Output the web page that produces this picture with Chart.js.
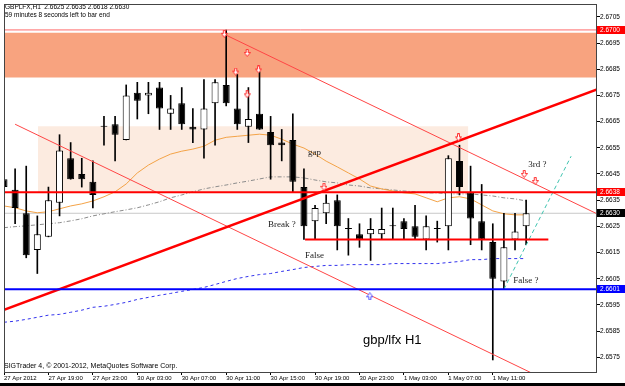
<!DOCTYPE html>
<html lang="en">
  <head>
    <meta charset="UTF-8" />
    <title>GBPLFX,H1</title>
    <style>
      body{
        margin: 0;
        background: #fff;
      }
      canvas{
        display: block;
      }
    </style>
  </head>
  <body>
    <canvas id="chart" width="625" height="386"></canvas>
    <script src="https://cdn.jsdelivr.net/npm/chart.js"></script>
    <script>
      // H1 bars, 27 Apr 2012 15:00 -> 1 May 2012 14:00
      const opens  = [2.6643, 2.6639, 2.6630, 2.6616, 2.6621, 2.6634, 2.6651, 2.6645, 2.6642,
                      2.6663, 2.6664, 2.6658, 2.6676, 2.6675, 2.6678, 2.6668, 2.6672, 2.6663, 2.6662, 2.6672,
                      2.6679, 2.6670, 2.6663, 2.6668, 2.6661, 2.6657, 2.6658, 2.6640, 2.6627, 2.6630,
                      2.6635, 2.6624, 2.6622,
                      2.6622, 2.6622, 2.6625, 2.6627, 2.6625, 2.6620, 2.6624, 2.6625, 2.6650, 2.6638,
                      2.6627, 2.6619, 2.6604, 2.6620, 2.6625];
      const highs  = [2.6645, 2.6647, 2.6648, 2.6629, 2.6640, 2.6660, 2.6657, 2.6651, 2.6650,
                      2.6667, 2.6667, 2.6679, 2.6680, 2.6680, 2.6680, 2.6675, 2.6678, 2.6670, 2.6681, 2.6681,
                      2.6700, 2.6683, 2.6678, 2.6684, 2.6667, 2.6662, 2.6668, 2.6647, 2.6633, 2.6637,
                      2.6637, 2.6628, 2.6626,
                      2.6628, 2.6632, 2.6632, 2.6628, 2.6633, 2.6629, 2.6627, 2.6652, 2.6656, 2.6648,
                      2.6641, 2.6626, 2.6630, 2.6630, 2.6635];
      const lows   = [2.6622, 2.6626, 2.6613, 2.6607, 2.6621, 2.6629, 2.6643, 2.6640, 2.6632,
                      2.6656, 2.6650, 2.6658, 2.6666, 2.6668, 2.6662, 2.6662, 2.6662, 2.6657, 2.6651, 2.6656,
                      2.6671, 2.6662, 2.6657, 2.6662, 2.6643, 2.6650, 2.6638, 2.6620, 2.6620, 2.6626,
                      2.6616, 2.6614, 2.6617,
                      2.6612, 2.6620, 2.6620, 2.6620, 2.6620, 2.6616, 2.6619, 2.6616, 2.6637, 2.6618,
                      2.6616, 2.6574, 2.6601, 2.6616, 2.6618];
      const closes = [2.6640, 2.6632, 2.6614, 2.6622, 2.6635, 2.6654, 2.6643, 2.6643, 2.6637,
                      2.6663, 2.6660, 2.6675, 2.6673, 2.6676, 2.6670, 2.6670, 2.6664, 2.6662, 2.6670, 2.6680,
                      2.6672, 2.6664, 2.6666, 2.6662, 2.6656, 2.6656, 2.6642, 2.6625, 2.6632, 2.6634,
                      2.6625, 2.6624, 2.6620,
                      2.6624, 2.6624, 2.6625, 2.6624, 2.6621, 2.6625, 2.6624, 2.6651, 2.6640, 2.6628,
                      2.6620, 2.6605, 2.6617, 2.6623, 2.6630];

      // moving averages
      const maOrange = [2.66328, 2.66321, 2.66309, 2.66302, 2.66306, 2.66317, 2.66328, 2.66336, 2.66347, 2.66363,
                        2.66382, 2.66412, 2.66454, 2.66484, 2.66507, 2.66526, 2.66537, 2.66545, 2.66556, 2.66579,
                        2.66590, 2.66594, 2.66598, 2.66602, 2.66598, 2.66583, 2.66564, 2.66549, 2.66526, 2.66499,
                        2.66477, 2.66454, 2.66431, 2.66404, 2.66393, 2.66385, 2.66378, 2.66374, 2.66359, 2.66344,
                        2.66359, 2.66363, 2.66355, 2.66332, 2.66309, 2.66298, 2.66294, 2.66294];
      const maGray   = [2.66245, 2.66249, 2.66252, 2.66256, 2.66260, 2.66264, 2.66271, 2.66279, 2.66290, 2.66298,
                        2.66306, 2.66313, 2.66321, 2.66332, 2.66344, 2.66359, 2.66370, 2.66382, 2.66393, 2.66401,
                        2.66408, 2.66416, 2.66423, 2.66431, 2.66439, 2.66439, 2.66439, 2.66435, 2.66427, 2.66420,
                        2.66416, 2.66408, 2.66404, 2.66397, 2.66393, 2.66389, 2.66385, 2.66382, 2.66378, 2.66378,
                        2.66374, 2.66374, 2.66374, 2.66370, 2.66366, 2.66359, 2.66355, 2.66347];
      const maBlue   = [2.65884, 2.65888, 2.65895, 2.65903, 2.65911, 2.65914, 2.65922, 2.65930, 2.65941, 2.65945,
                        2.65952, 2.65960, 2.65971, 2.65979, 2.65987, 2.65994, 2.66002, 2.66009, 2.66017, 2.66028,
                        2.66040, 2.66051, 2.66059, 2.66066, 2.66070, 2.66078, 2.66085, 2.66093, 2.66097, 2.66101,
                        2.66101, 2.66104, 2.66104, 2.66104, 2.66104, 2.66108, 2.66108, 2.66108, 2.66108, 2.66108,
                        2.66112, 2.66116, 2.66123, 2.66123, 2.66127, 2.66127, 2.66127, 2.66127];

      const xTickBars   = [0, 4, 8, 12, 16, 20, 24, 28, 32, 36, 40, 44];
      const xTickLabels = ['27 Apr 2012', '27 Apr 19:00', '27 Apr 23:00', '30 Apr 03:00', '30 Apr 07:00', '30 Apr 11:00',
                           '30 Apr 15:00', '30 Apr 19:00', '30 Apr 23:00', '1 May 03:00', '1 May 07:00', '1 May 11:00'];
      const yTicks = [2.6575, 2.6585, 2.6595, 2.6605, 2.6615, 2.6625, 2.6635, 2.6645, 2.6655, 2.6665, 2.6675, 2.6685, 2.6695, 2.6705];

      const xMax = 53.38;
      const yMin = 2.65694, yMax = 2.67099;

      // drawn objects (bar index, price)
      const topLevel = 2.6700;
      const resistance = 2.6638;
      const bidLevel = 2.6630;
      const support = 2.6601;
      const upperZone = [2.66818, 2.66989];
      const paleZone = [2.6638, 2.66632];
      const paleZoneBars = [3.05, 41.8];
      const riseLine = [[0, 2.65931], [xMax, 2.66773]];
      const fallLineTop = [[20, 2.6698], [xMax, 2.66298]];
      const fallLineLow = [[1, 2.6664], [xMax, 2.6557]];
      const cyanLine = [[45, 2.6601], [51.05, 2.66518]];
      const falseLevel = [[27.1, 2.6620], [49, 2.6620]];
      const sellArrows = [[21.89, 2.66912], [19.83, 2.66985], [20.86, 2.66841], [22.92, 2.66849], [21.89, 2.66754],
                          [28.8, 2.66401], [40.91, 2.6659], [46.83, 2.6645], [47.82, 2.66423]];
      const buyArrows = [[32.93, 2.65983]];
      const notes = [
        ['gap', 27.36, 2.6653],
        ['Break ?', 23.77, 2.66258],
        ['False', 27.09, 2.66139],
        ['False ?', 45.85, 2.66044],
        ['3rd ?', 47.19, 2.66486]
      ];
      const axisMarks = [[topLevel, '#ff0000'], [resistance, '#ff0000'], [bidLevel, '#000000'], [support, '#0000ff']];

      const pts = arr => arr.map(p => ({x: p[0], y: p[1]}));
      const flat = (p, a, b) => [{x: a, y: p}, {x: b, y: p}];

      function arrowIcon(color, up) {
        const c = document.createElement('canvas');
        c.width = 7; c.height = 8;
        const g = c.getContext('2d');
        if (up) { g.translate(0, 8); g.scale(1, -1); }
        g.beginPath();
        g.moveTo(2.5, 0.5); g.lineTo(4.5, 0.5); g.lineTo(4.5, 3.5); g.lineTo(6.5, 3.5);
        g.lineTo(3.5, 7.5); g.lineTo(0.5, 3.5); g.lineTo(2.5, 3.5); g.closePath();
        g.fillStyle = '#fff'; g.fill();
        g.strokeStyle = color; g.lineWidth = 1; g.stroke();
        return c;
      }

      const idx = opens.map((_, i) => i);
      const wicks = idx.map(i => ({x: i, y: [lows[i], highs[i]]}));
      const bodies = idx.map(i => ({x: i, y: [Math.min(opens[i], closes[i]), Math.max(opens[i], closes[i])]}));
      const bodyFill = idx.map(i => closes[i] > opens[i] ? '#ffffff' : (closes[i] < opens[i] ? '#000000' : '#ffffff'));

      const lineDs = (data, color, width, order, extra) => Object.assign({
        type: 'line', data, borderColor: color, borderWidth: width, pointRadius: 0, fill: false, order
      }, extra || {});

      const decor = {
        id: 'decor',
        beforeDraw(chart) {
          const ctx = chart.ctx;
          ctx.save();
          ctx.fillStyle = '#fff';
          ctx.fillRect(0, 0, chart.width, chart.height);
          ctx.restore();
        },
        afterDatasetsDraw(chart) {
          const {ctx, chartArea: a, scales} = chart;
          ctx.save();
          ctx.fillStyle = '#222';
          ctx.textBaseline = 'middle';
          ctx.textAlign = 'left';
          ctx.font = '9px "Liberation Serif"';
          notes.forEach(n => {
            ctx.fillText(n[0], scales.x.getPixelForValue(n[1]), scales.y.getPixelForValue(n[2]));
          });
          ctx.fillStyle = '#000';
          ctx.font = '13px "Liberation Sans"';
          ctx.fillText('gbp/lfx H1', 363, 340);
          const last = opens.length - 1;
          ctx.font = '6.5px "Liberation Sans"';
          ctx.fillText('GBPLFX,H1  ' + [opens[last], highs[last], lows[last], closes[last]].map(v => v.toFixed(4)).join(' '), 5, 7);
          ctx.fillText('59 minutes 8 seconds left to bar end', 5, 15);
          ctx.font = '7px "Liberation Sans"';
          ctx.fillText('SIGTrader 4, \u00a9 2001-2012, MetaQuotes Software Corp.', 4, 366);
          ctx.strokeStyle = '#444';
          ctx.lineWidth = 1;
          ctx.strokeRect(a.left + 0.5, a.top + 0.5, a.right - a.left - 1, a.bottom - a.top);
          ctx.restore();
        },
        afterDraw(chart) {
          const {ctx, chartArea: a, scales} = chart;
          ctx.save();
          ctx.font = '6.5px "Liberation Sans"';
          ctx.textBaseline = 'middle';
          axisMarks.forEach(m => {
            const y = Math.round(scales.y.getPixelForValue(m[0]));
            ctx.fillStyle = m[1];
            ctx.fillRect(a.right, y - 4, chart.width - a.right, 8);
            ctx.fillStyle = '#fff';
            ctx.fillText(m[0].toFixed(4), a.right + 3, y);
          });
          ctx.fillStyle = '#000';
          ctx.fillRect(0, 383, chart.width, 3);
          ctx.restore();
        }
      };

      new Chart(document.getElementById('chart'), {
        type: 'bar',
        data: {
          datasets: [
            // background zones
            lineDs(flat(upperZone[1], 0, xMax), 'rgba(0,0,0,0)', 0, 9, {fill: {value: upperZone[0]}, backgroundColor: '#f8a37f'}),
            lineDs(flat(paleZone[1], paleZoneBars[0], paleZoneBars[1]), 'rgba(0,0,0,0)', 0, 9, {fill: {value: paleZone[0]}, backgroundColor: '#fcebe0'}),
            lineDs(flat(bidLevel, 0, xMax), '#c8c8c8', 1, 8),
            // indicators
            lineDs(maOrange.map((v, i) => ({x: i, y: v})), '#f4a347', 1, 5),
            lineDs(maGray.map((v, i) => ({x: i, y: v})), '#8c8c8c', 1, 5, {borderDash: [4, 2, 1, 2]}),
            lineDs(maBlue.map((v, i) => ({x: i, y: v})), '#3333ee', 1, 5, {borderDash: [3, 3]}),
            // candles
            {
              data: wicks, backgroundColor: '#000', borderWidth: 0, grouped: false,
              maxBarThickness: 1, barPercentage: 1, categoryPercentage: 1, clip: 0, order: 4
            },
            {
              data: bodies, backgroundColor: bodyFill, borderColor: '#000', borderWidth: 1, borderSkipped: false,
              grouped: false, maxBarThickness: 7, minBarLength: 1, clip: 0, order: 3
            },
            // trend lines and levels
            lineDs(flat(topLevel, 0, xMax), '#ff6a6a', 1, 2),
            lineDs(flat(resistance, 0, xMax), '#ff0000', 2, 1),
            lineDs(flat(support, 0, xMax), '#0000ff', 2, 1),
            lineDs(pts(falseLevel), '#ff0000', 2, 1),
            lineDs(pts(riseLine), '#ff0000', 2.5, 1),
            lineDs(pts(fallLineTop), '#ff4545', 1, 1),
            lineDs(pts(fallLineLow), '#ff4545', 1, 1),
            lineDs(pts(cyanLine), '#3fc4b0', 1, 1, {borderDash: [4, 3]}),
            // arrows
            lineDs(pts(sellArrows), '#ff3030', 0, 0, {showLine: false, pointRadius: 3, pointStyle: arrowIcon('#ff3030', false)}),
            lineDs(pts(buyArrows), '#5050ff', 0, 0, {showLine: false, pointRadius: 3, pointStyle: arrowIcon('#5050ff', true)})
          ]
        },
        options: {
          responsive: false,
          animation: false,
          devicePixelRatio: 1,
          events: [],
          layout: { padding: { left: 2, top: 2, right: 0, bottom: 3 } },
          plugins: { legend: { display: false }, tooltip: { enabled: false } },
          scales: {
            x: {
              type: 'linear', min: 0, max: xMax, offset: false,
              afterBuildTicks: s => { s.ticks = xTickBars.map(v => ({value: v})); },
              afterFit: s => { s.height = 11; },
              ticks: {
                autoSkip: false, maxRotation: 0, align: 'start', padding: 0, color: '#000',
                font: { family: 'Liberation Sans', size: 6 },
                callback: (v, i) => xTickLabels[i]
              },
              grid: { drawOnChartArea: false, tickLength: 3, color: '#000', offset: false },
              border: { display: false }
            },
            y: {
              type: 'linear', position: 'right', min: yMin, max: yMax,
              afterBuildTicks: s => { s.ticks = yTicks.map(v => ({value: v})); },
              afterFit: s => { s.width = 28; },
              ticks: {
                padding: 0, color: '#000',
                font: { family: 'Liberation Sans', size: 6.5 },
                callback: v => v.toFixed(4)
              },
              grid: { drawOnChartArea: false, tickLength: 3, color: '#000' },
              border: { display: false }
            }
          }
        },
        plugins: [decor]
      });
    </script>
  </body>
</html>
